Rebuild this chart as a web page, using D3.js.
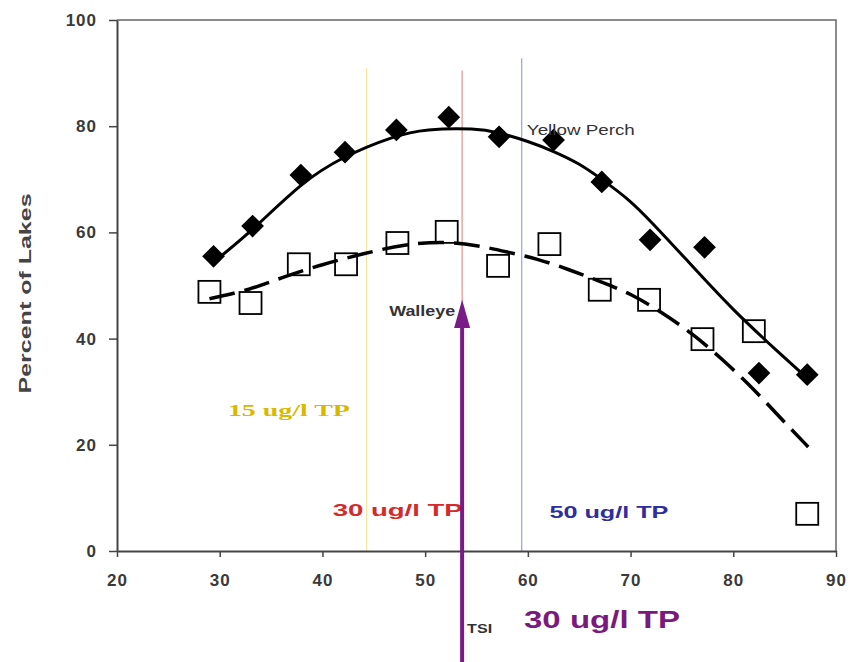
<!DOCTYPE html>
<html>
<head>
<meta charset="utf-8">
<script src="https://cdn.jsdelivr.net/npm/d3@7"></script>
<style>
  body { margin: 0; background: #fff; }
  svg { display: block; font-family: Arial, "Liberation Sans", sans-serif; }
</style>
</head>
<body>
<svg id="chart" width="851" height="662"></svg>
<script>
// TSI on x, percent of lakes on y
var perchTSI = [29.4, 33.2, 37.9, 42.2, 47.2, 52.3, 57.2, 62.5, 67.2, 71.9, 77.2, 82.5, 87.2]
var perchPct = [55.5, 61.2, 70.8, 75.1, 79.3, 81.7, 78.0, 77.4, 69.5, 58.6, 57.2, 33.5, 33.2]

var walleyeTSI = [29.0, 33.0, 37.7, 42.3, 47.3, 52.1, 57.1, 62.1, 67.0, 71.8, 77.0, 82.0, 87.2]
var walleyePct = [48.8, 46.7, 54.0, 54.0, 58.0, 60.1, 53.7, 57.8, 49.2, 47.3, 39.9, 41.4, 7.0]

// trend lines
var perchFitTSI = [29.4, 33, 38, 42, 47, 50, 55, 57, 60, 62.5, 65, 67, 70, 72, 75, 80, 85, 87.5]
var perchFitPct = [54.4, 60.0, 69.5, 74.3, 78.2, 79.5, 79.6, 78.9, 77.2, 75.3, 73.0, 70.3, 66.0, 62.0, 55.8, 45.2, 36.4, 32.0]

var walleyeFitTSI = [29, 33, 36, 40, 44, 48, 52, 55, 58, 61, 64, 67, 70, 73, 76, 79, 82, 85, 87.3]
var walleyeFitPct = [47.5, 49.2, 51.5, 54.0, 56.0, 57.8, 58.3, 57.6, 56.3, 55.0, 53.0, 50.8, 48.5, 45.0, 41.0, 36.0, 30.5, 24.2, 19.6]

var xTicks = [20, 30, 40, 50, 60, 70, 80, 90]
var yTicks = [0, 20, 40, 60, 80, 100]

// TP thresholds (TSI value, label)
var tpTSI = [44.3, 53.6, 59.4]
var tpLabels = ['15 ug/l TP', '30 ug/l TP', '50 ug/l TP']
var tpColors = ['#f2e6a0', '#e49a9a', '#a4a4e4']

var margin = {left: 117, right: 15, top: 20, bottom: 111}
var w = 851, h = 662

var svg = d3.select('#chart')

var xs = d3.scaleLinear().domain([20, 90]).range([margin.left, w - margin.right])
var ys = d3.scaleLinear().domain([0, 100]).range([h - margin.bottom, margin.top])

// frame (top + right)
svg.append('path')
    .attr('d', `M${xs(20)},${ys(100)}H${xs(90)}V${ys(0)}`)
    .style('fill', 'none').style('stroke', '#666').style('stroke-width', 1.5)

// threshold lines
var lineTops = [91, 90.5, 92.8]
tpTSI.forEach((t, i) => {
    svg.append('line')
        .attr('x1', xs(t)).attr('x2', xs(t))
        .attr('y1', ys(lineTops[i])).attr('y2', ys(0))
        .style('stroke', tpColors[i]).style('stroke-width', 1.3)
})

// axes
var xAxis = svg.append('g')
    .attr('transform', `translate(0,${ys(0)})`)
    .call(d3.axisBottom(xs).tickValues(xTicks).tickSize(6).tickSizeOuter(0).tickPadding(17))
var yAxis = svg.append('g')
    .attr('transform', `translate(${xs(20)},0)`)
    .call(d3.axisLeft(ys).tickValues(yTicks).tickSize(8).tickSizeOuter(0).tickPadding(12))

;[xAxis, yAxis].forEach(a => {
    a.select('.domain').style('stroke', '#444').style('stroke-width', 2)
    a.selectAll('.tick line').style('stroke', '#444').style('stroke-width', 1.5)
    a.selectAll('.tick text').style('font-size', '17px').style('font-weight', 'bold')
        .style('letter-spacing', '1px').style('fill', '#3a3a3a')
})

svg.append('text')
    .attr('transform', `translate(31,${ys(48.5)}) rotate(-90)`)
    .attr('text-anchor', 'middle')
    .attr('textLength', 200).attr('lengthAdjust', 'spacingAndGlyphs')
    .style('font-size', '16px').style('font-weight', 'bold').style('fill', '#444')
    .text('Percent of Lakes')

// markers
var perch = perchTSI.map((t, i) => ({x: t, y: perchPct[i]}))
var walleye = walleyeTSI.map((t, i) => ({x: t, y: walleyePct[i]}))

svg.selectAll('.perch')
    .data(perch)
    .enter()
    .append('path')
    .attr('class', 'perch')
    .attr('d', d3.symbol().type(d3.symbolDiamond2).size(330)())
    .attr('transform', d => `translate(${xs(d.x)},${ys(d.y)})`)
    .style('fill', '#000')

svg.selectAll('.walleye')
    .data(walleye)
    .enter()
    .append('rect')
    .attr('class', 'walleye')
    .attr('x', d => xs(d.x) - 11).attr('y', d => ys(d.y) - 11)
    .attr('width', 22).attr('height', 22)
    .style('fill', '#fff').style('stroke', '#000').style('stroke-width', 1.8)

// trend lines
var fn = d3.line().x(d => xs(d.x)).y(d => ys(d.y)).curve(d3.curveBasis)

svg.append('path')
    .attr('d', fn(perchFitTSI.map((t, i) => ({x: t, y: perchFitPct[i]}))))
    .style('fill', 'none').style('stroke', '#000').style('stroke-width', 3)

svg.append('path')
    .attr('d', fn(walleyeFitTSI.map((t, i) => ({x: t, y: walleyeFitPct[i]}))))
    .style('fill', 'none').style('stroke', '#000').style('stroke-width', 3.5)
    .style('stroke-dasharray', '26,10')

// series labels
svg.append('text').attr('x', xs(59.9)).attr('y', ys(78.4))
    .attr('textLength', 108).attr('lengthAdjust', 'spacingAndGlyphs')
    .style('font-size', '15px').style('fill', '#333')
    .text('Yellow Perch')
svg.append('text').attr('x', xs(46.5)).attr('y', ys(44.2))
    .attr('textLength', 66).attr('lengthAdjust', 'spacingAndGlyphs')
    .style('font-size', '14px').style('font-weight', 'bold').style('fill', '#333')
    .text('Walleye')

// TP labels
var tpLabelX = [30.8, 41.0, 62.1]
var tpLabelY = [25.4, 6.6, 6.3]
var tpLabelW = [122, 130, 119]
var tpTextColors = ['#d9b800', '#d42a2a', '#2e2e9e']
tpLabels.forEach((l, i) => {
    svg.append('text')
        .attr('x', xs(tpLabelX[i])).attr('y', ys(tpLabelY[i]))
        .attr('textLength', tpLabelW[i]).attr('lengthAdjust', 'spacingAndGlyphs')
        .style('font-size', '17px').style('font-weight', 'bold')
        .style('font-family', i == 0 ? '"Liberation Serif", serif' : 'Arial, sans-serif')
        .style('fill', tpTextColors[i])
        .text(l)
})

// arrow pointing at the 30 ug/l TP TSI
var arrowX = xs(tpTSI[1])
svg.append('line')
    .attr('x1', arrowX).attr('x2', arrowX)
    .attr('y1', h).attr('y2', ys(42.5))
    .style('stroke', '#7a1a86').style('stroke-width', 4)
svg.append('path')
    .attr('d', `M${arrowX},${ys(47.3)}L${arrowX - 8},${ys(42)}L${arrowX + 8},${ys(42)}Z`)
    .style('fill', '#7a1a86')

svg.append('text').attr('x', arrowX + 5).attr('y', 633)
    .attr('textLength', 25).attr('lengthAdjust', 'spacingAndGlyphs')
    .style('font-size', '12px').style('font-weight', 'bold').style('fill', '#333')
    .text('TSI')
svg.append('text').attr('x', 524).attr('y', 628)
    .attr('textLength', 156).attr('lengthAdjust', 'spacingAndGlyphs')
    .style('font-size', '23px').style('font-weight', 'bold').style('fill', '#7a1a7e')
    .text('30 ug/l TP')
</script>
</body>
</html>
